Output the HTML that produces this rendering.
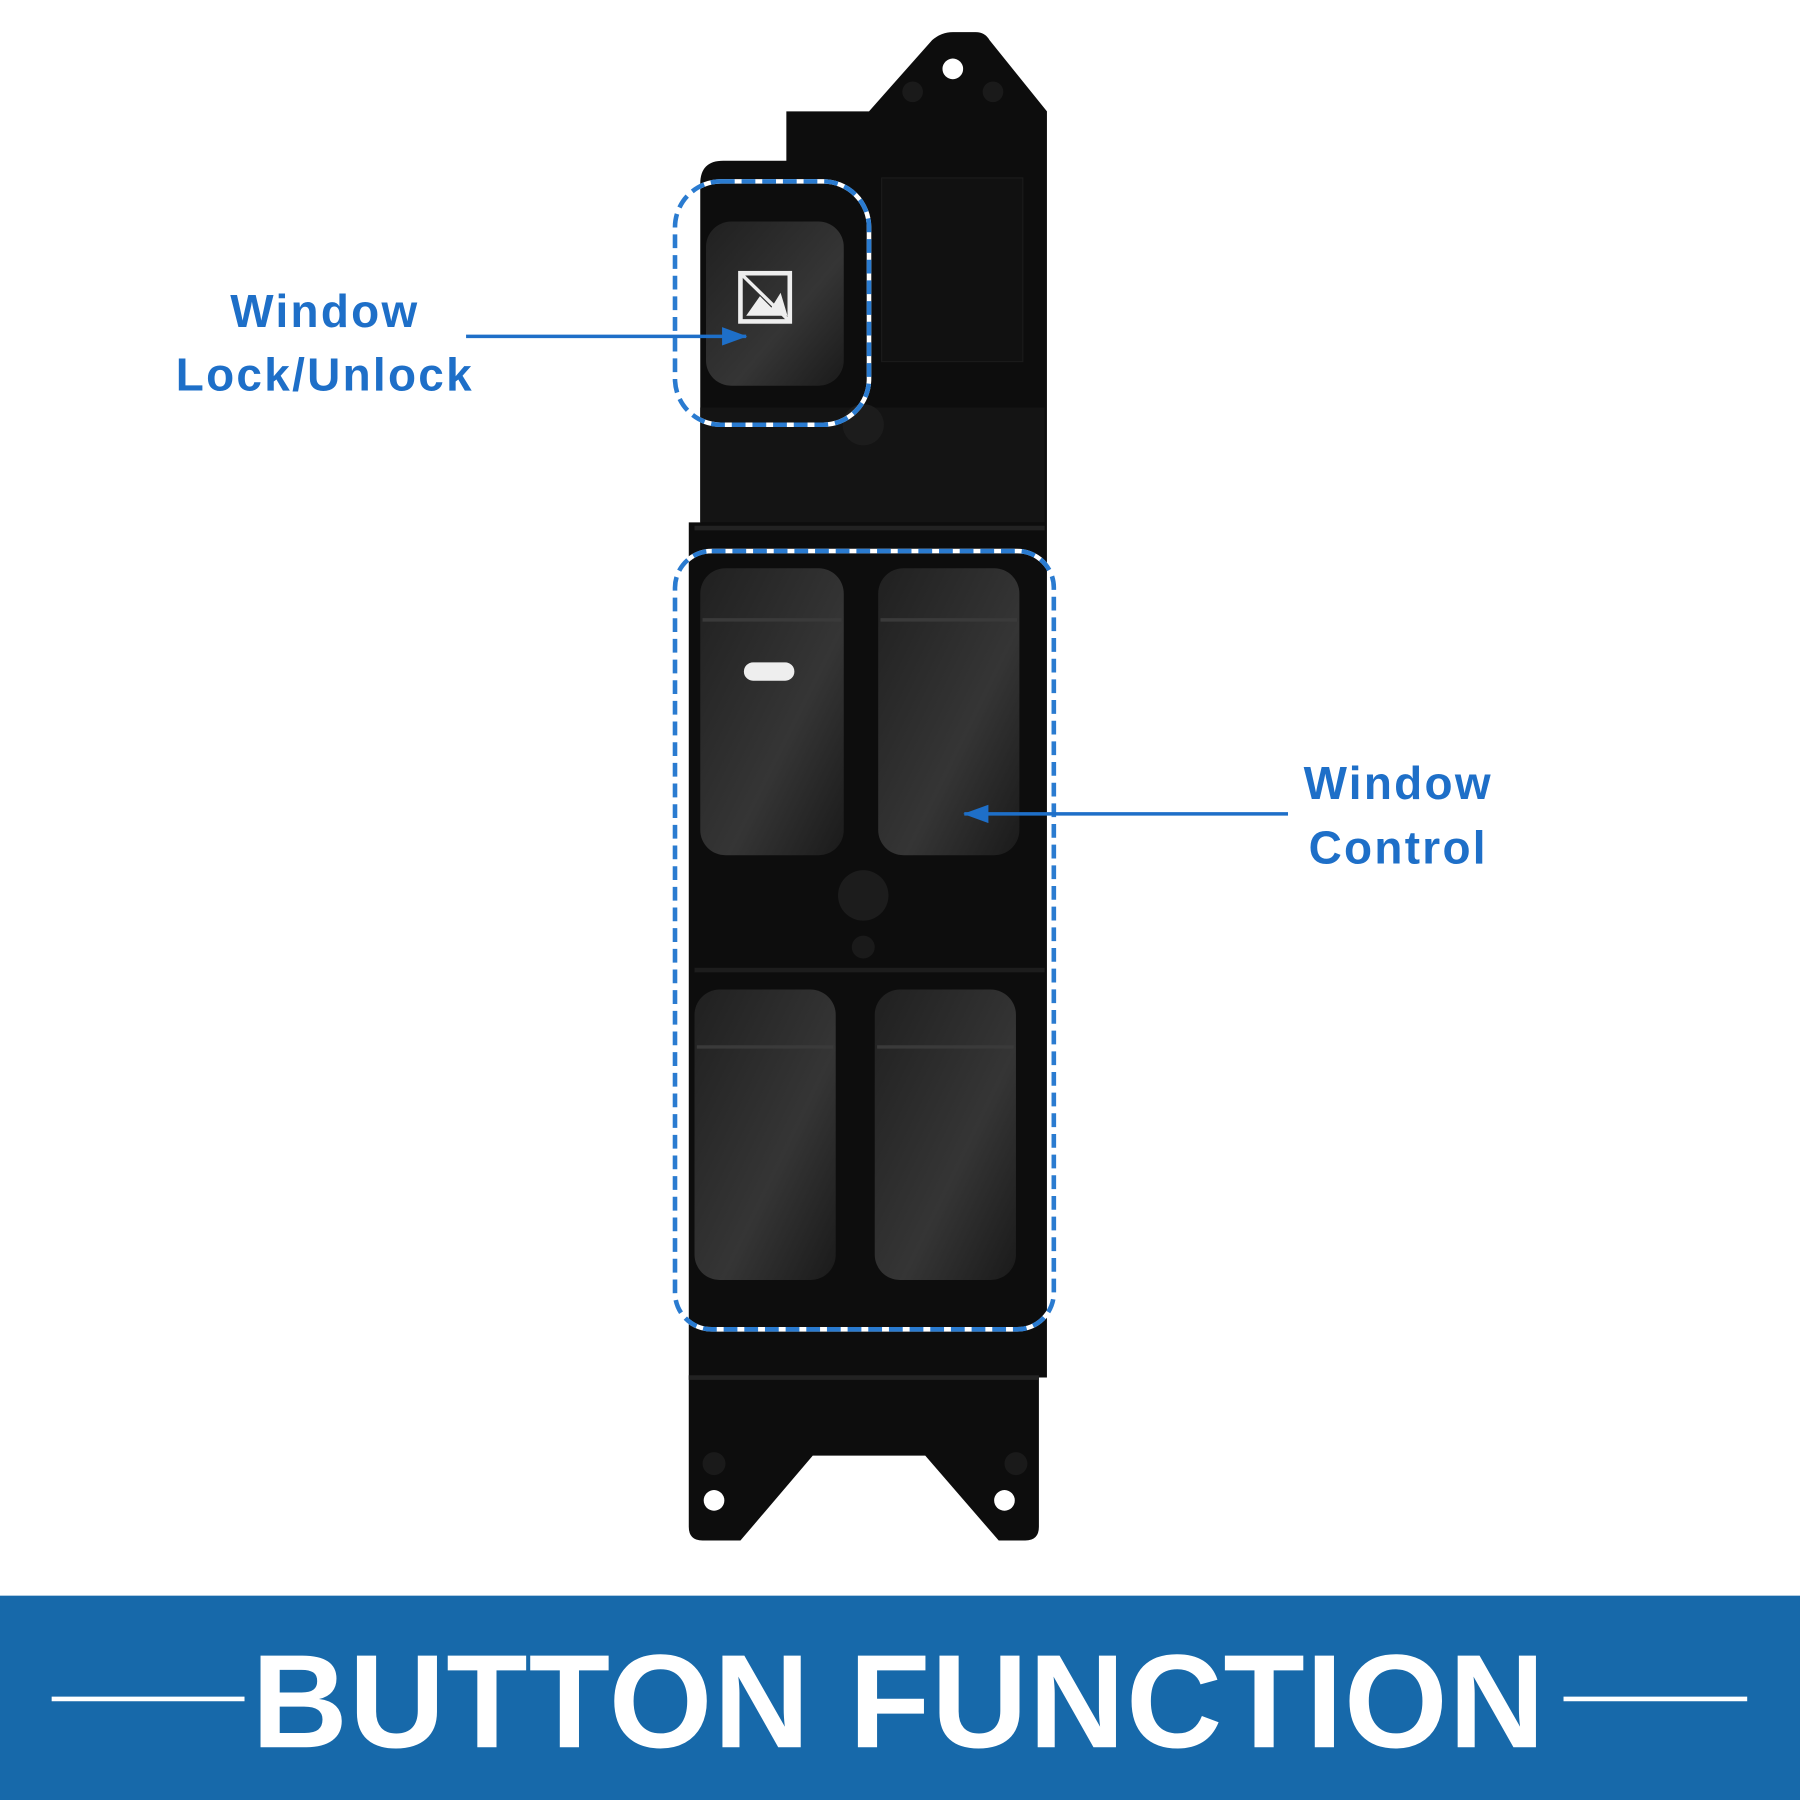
<!DOCTYPE html>
<html><head><meta charset="utf-8"><style>
html,body{margin:0;padding:0;background:#fff;width:1800px;height:1800px;overflow:hidden}
svg{display:block}
</style></head><body>
<svg width="1800" height="1800" viewBox="0 0 1568 1568" xmlns="http://www.w3.org/2000/svg">
<defs>
<linearGradient id="bt" x1="0" y1="0" x2="1" y2="1">
<stop offset="0" stop-color="#202020"/><stop offset="0.6" stop-color="#353535"/><stop offset="1" stop-color="#1a1a1a"/>
</linearGradient>
<marker id="ah" markerWidth="22" markerHeight="16" refX="21" refY="8" orient="auto" markerUnits="userSpaceOnUse">
<path d="M0,0 L22,8 L0,16 z" fill="#1e6fc8"/></marker>
</defs>
<rect width="1568" height="1568" fill="#fff"/>
<path d="M685,97 L757,97 L812,35 Q820,28 830,28 L850,28 Q858,28 862,35 L912,97 L912,455 L912,1200 L905,1200 L905,1330 Q905,1342 893,1342 L870,1342 L806,1268 L708,1268 L645,1342 L612,1342 Q600,1342 600,1330 L600,1200 L600,455 L610,455 L610,160 Q610,140 630,140 L685,140 Z" fill="#0d0d0d"/>
<rect x="768" y="155" width="123" height="160" fill="#111" stroke="#1b1b1b"/>
<rect x="610" y="355" width="300" height="100" fill="#141414"/>
<line x1="605" y1="460" x2="910" y2="460" stroke="#222" stroke-width="4"/>
<line x1="600" y1="1200" x2="905" y2="1200" stroke="#222" stroke-width="4"/>
<line x1="605" y1="845" x2="910" y2="845" stroke="#1d1d1d" stroke-width="4"/>
<circle cx="830" cy="60" r="9" fill="#fff"/>
<circle cx="795" cy="80" r="9" fill="#1a1a1a"/><circle cx="865" cy="80" r="9" fill="#1a1a1a"/>
<circle cx="622" cy="1307" r="9" fill="#fff"/><circle cx="875" cy="1307" r="9" fill="#fff"/>
<circle cx="622" cy="1275" r="10" fill="#1a1a1a"/><circle cx="885" cy="1275" r="10" fill="#1a1a1a"/>
<circle cx="752" cy="370" r="18" fill="#1c1c1c"/>
<circle cx="752" cy="780" r="22" fill="#1c1c1c"/>
<circle cx="752" cy="825" r="10" fill="#1a1a1a"/>
<rect x="615" y="193" width="120" height="143" rx="22" fill="url(#bt)"/>
<rect x="645" y="238" width="43" height="42" fill="none" stroke="#eee" stroke-width="4"/>
<path d="M650,275 L662,258 L672,268 L680,255 L686,275Z" fill="#eee"/>
<line x1="645" y1="238" x2="688" y2="280" stroke="#eee" stroke-width="3"/>
<rect x="610" y="495" width="125" height="250" rx="22" fill="url(#bt)"/>
<rect x="765" y="495" width="123" height="250" rx="22" fill="url(#bt)"/>
<rect x="605" y="862" width="123" height="253" rx="22" fill="url(#bt)"/>
<rect x="762" y="862" width="123" height="253" rx="22" fill="url(#bt)"/>
<line x1="612" y1="540" x2="733" y2="540" stroke="#3a3a3a" stroke-width="3"/>
<line x1="767" y1="540" x2="886" y2="540" stroke="#3a3a3a" stroke-width="3"/>
<line x1="607" y1="912" x2="726" y2="912" stroke="#3a3a3a" stroke-width="3"/>
<line x1="764" y1="912" x2="883" y2="912" stroke="#3a3a3a" stroke-width="3"/>
<rect x="648" y="577" width="44" height="16" rx="8" fill="#eee"/>
<g fill="none" stroke-width="4">
<rect x="588" y="158" width="169" height="212" rx="40" stroke="#fff"/>
<rect x="588" y="158" width="169" height="212" rx="40" stroke="#2a7bd0" stroke-dasharray="12 6"/>
<rect x="588" y="480" width="330" height="678" rx="32" stroke="#fff"/>
<rect x="588" y="480" width="330" height="678" rx="32" stroke="#2a7bd0" stroke-dasharray="12 6"/>
</g>
<g font-family="Liberation Sans, sans-serif" font-weight="bold" font-size="40" fill="#1e6fc8" text-anchor="middle" letter-spacing="2">
<text x="283" y="285">Window</text>
<text x="283" y="340">Lock/Unlock</text>
<text x="1218" y="696">Window</text>
<text x="1218" y="752">Control</text>
</g>
<line x1="406" y1="293" x2="650" y2="293" stroke="#1e6fc8" stroke-width="3" marker-end="url(#ah)"/>
<line x1="1122" y1="709" x2="840" y2="709" stroke="#1e6fc8" stroke-width="3" marker-end="url(#ah)"/>
<rect x="0" y="1390" width="1568" height="178" fill="#1769aa"/>
<line x1="45" y1="1480" x2="213" y2="1480" stroke="#fff" stroke-width="4"/>
<line x1="1362" y1="1480" x2="1522" y2="1480" stroke="#fff" stroke-width="4"/>
<text x="783" y="1522" font-family="Liberation Sans, sans-serif" font-weight="bold" font-size="116" fill="#fff" text-anchor="middle" letter-spacing="1">BUTTON FUNCTION</text>
</svg>
</body></html>
